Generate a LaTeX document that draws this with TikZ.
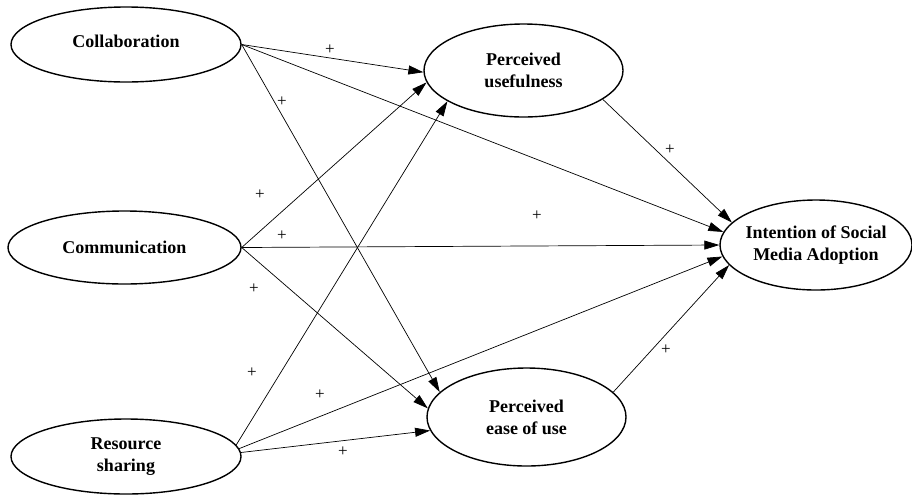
\documentclass[tikz,border=0pt]{standalone}
\usepackage{fontspec}
\setmainfont{Liberation Serif}
\usetikzlibrary{arrows.meta,shapes.geometric}

\tikzset{
	construct/.style={ellipse, draw, line width=1.4pt, inner sep=-6pt, align=center,
		font=\bfseries\fontsize{18}{22}\selectfont},
	path/.style={line width=0.7pt, -{Triangle[length=15pt,width=9pt]}},
	plus/.style={inner sep=0pt, font=\fontsize{17}{17}\selectfont}
}

\begin{document}
\begin{tikzpicture}[x=1pt,y=-1pt]
	\useasboundingbox (0,0) rectangle (912,496);

	% constructs
	\node[construct, minimum width=230pt, minimum height=75pt] (collab) at (126,44.5) {\raisebox{6pt}{Collaboration}};
	\node[construct, minimum width=233pt, minimum height=73pt] (comm) at (124.5,247.5) {Communication};
	\node[construct, minimum width=230pt, minimum height=75pt] (share) at (126,456.5) {Resource\\sharing};
	\node[construct, minimum width=199pt, minimum height=93pt] (useful) at (523.5,70.5) {Perceived\\usefulness};
	\node[construct, minimum width=199pt, minimum height=98pt] (ease) at (526.5,417) {Perceived\\ease of use};
	\node[construct, minimum width=192pt, minimum height=90pt] (intent) at (816,245) {Intention of Social\\Media Adoption};

	% hypothesised paths
	\draw[path] (collab.east) -- (useful.181);
	\draw[path] (collab.east) -- (intent.172);
	\draw[path] (collab.east) -- (ease.164);
	\draw[path] (comm.east) -- (useful.187);
	\draw[path] (comm.east) -- (intent.west);
	\draw[path] (comm.east) -- (ease.175);
	\draw[path] (share.6) -- (useful.202);
	\draw[path] (share.4) -- (intent.187);
	\draw[path] (share.2) -- (ease.188);
	\draw[path] (useful.340) -- (intent.165);
	\draw[path] (ease.16) -- (intent.193);

	% signs
	\foreach \px/\py [count=\i] in {330/50, 537/216, 282/102, 260/195, 282/236, 254/289,
		252/373, 320/395, 343/452, 670/150, 666/350}{
		\node[plus] (sign\i) at (\px,\py) {+};
	};
\end{tikzpicture}
\end{document}
